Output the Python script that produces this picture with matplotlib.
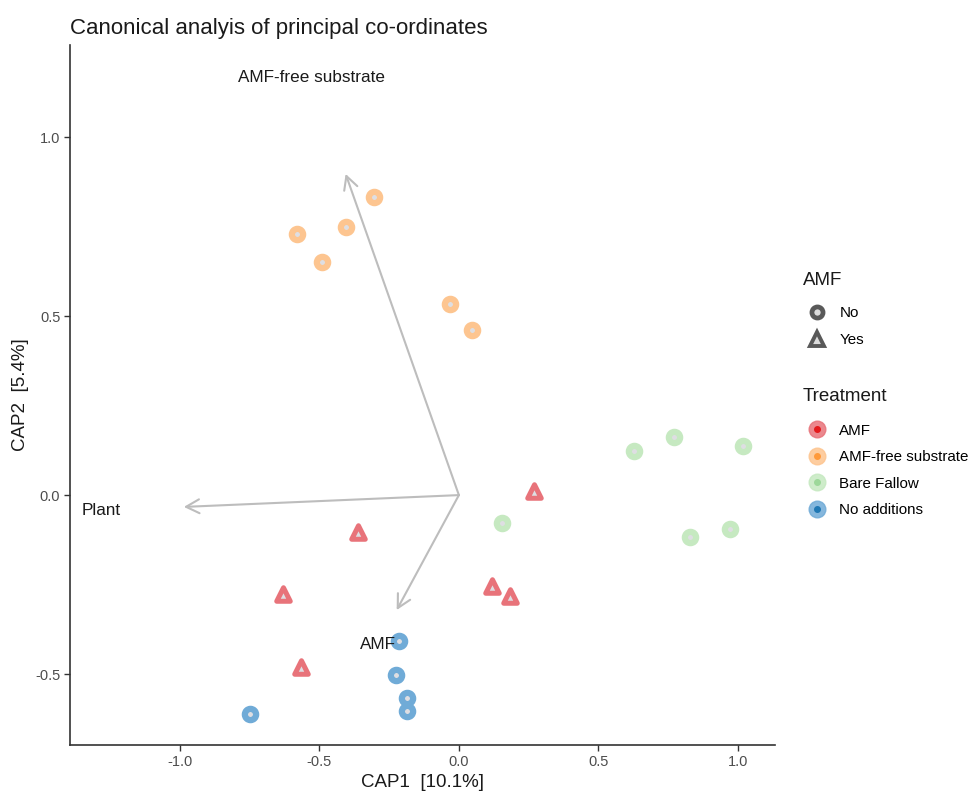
import matplotlib
matplotlib.use('Agg')
import matplotlib.pyplot as plt
from matplotlib.lines import Line2D

plt.rcParams['font.family'] = ['Liberation Sans', 'DejaVu Sans']

# site scores (CAP1, CAP2) per treatment
treatments = ['AMF', 'AMF-free substrate', 'Bare Fallow', 'No additions']
amf_flag = {'AMF': 'Yes', 'AMF-free substrate': 'No', 'Bare Fallow': 'No', 'No additions': 'No'}

cap1 = {
    'AMF': [0.269, -0.360, 0.118, 0.183, -0.632, -0.566],
    'AMF-free substrate': [-0.305, -0.406, -0.582, -0.490, -0.032, 0.048],
    'Bare Fallow': [0.628, 0.771, 1.019, 0.154, 0.830, 0.971],
    'No additions': [-0.214, -0.227, -0.187, -0.187, -0.747],
}
cap2 = {
    'AMF': [0.011, -0.103, -0.254, -0.282, -0.277, -0.480],
    'AMF-free substrate': [0.833, 0.748, 0.729, 0.650, 0.535, 0.460],
    'Bare Fallow': [0.123, 0.163, 0.137, -0.078, -0.117, -0.094],
    'No additions': [-0.408, -0.503, -0.566, -0.603, -0.612],
}

# biplot vectors
vec_names = ['AMF-free substrate', 'Plant', 'AMF']
vec_x = [-0.406, -0.986, -0.223]
vec_y = [0.897, -0.033, -0.321]

ring_col = {'AMF': '#E8737A', 'AMF-free substrate': '#FDC590',
            'Bare Fallow': '#C6E9C1', 'No additions': '#70ABD7'}
dark_col = {'AMF': '#E41A1C', 'AMF-free substrate': '#FF9A3C',
            'Bare Fallow': '#9DD89A', 'No additions': '#1F78B4'}
center_col = '#DEDEE2'

fig = plt.figure(figsize=(9.71, 7.96), dpi=100)
ax = fig.add_axes([0.0721, 0.064, 0.7260, 0.8795])

for t in treatments:
    if amf_flag[t] == 'Yes':
        ax.scatter(cap1[t], cap2[t], marker='^', s=95, facecolor=center_col,
                   edgecolor=ring_col[t], linewidth=3.6, zorder=3)
    else:
        ax.scatter(cap1[t], cap2[t], marker='o', s=66, facecolor=center_col,
                   edgecolor=ring_col[t], linewidth=4.5, zorder=3)

for name, vx, vy in zip(vec_names, vec_x, vec_y):
    ax.annotate('', xy=(vx, vy), xytext=(0, 0),
                arrowprops=dict(arrowstyle='->, head_length=0.95, head_width=0.5',
                                color='#BDBDBD', lw=1.5, shrinkA=0, shrinkB=0),
                zorder=2)
    ax.text(vx * 1.3, vy * 1.3, name, fontsize=12.3, color='#1A1A1A',
            ha='center', va='center', zorder=4)

ax.set_xlim(-1.394, 1.133)
ax.set_ylim(-0.698, 1.257)
ax.set_xticks([-1.0, -0.5, 0.0, 0.5, 1.0])
ax.set_yticks([-0.5, 0.0, 0.5, 1.0])
ax.set_xticklabels(['-1.0', '-0.5', '0.0', '0.5', '1.0'])
ax.set_yticklabels(['-0.5', '0.0', '0.5', '1.0'])
ax.tick_params(colors='#333333', labelcolor='#4D4D4D', labelsize=10.5,
               length=4, width=1, pad=3)
for side in ['top', 'right']:
    ax.spines[side].set_visible(False)
for side in ['left', 'bottom']:
    ax.spines[side].set_color('#333333')
    ax.spines[side].set_linewidth(1.2)

ax.set_xlabel('CAP1  [10.1%]', fontsize=13.5, color='#1A1A1A', labelpad=4)
ax.set_ylabel('CAP2  [5.4%]', fontsize=13.5, color='#1A1A1A', labelpad=4)
ax.set_title('Canonical analyis of principal co-ordinates', loc='left',
             fontsize=16, color='#1A1A1A', pad=8)

# legends (titles drawn as separate text for exact spacing)
fig.text(0.827, 0.6482, 'AMF', fontsize=13.5, color='#1A1A1A', va='center', ha='left')
fig.text(0.827, 0.5013, 'Treatment', fontsize=13.5, color='#1A1A1A', va='center', ha='left')

amf_handles = [
    Line2D([], [], marker='o', ls='', markersize=8, markerfacecolor='#DCDCDC',
           markeredgecolor='#595959', markeredgewidth=3.4),
    Line2D([], [], marker='^', ls='', markersize=10.5, markerfacecolor='#DCDCDC',
           markeredgecolor='#595959', markeredgewidth=2.8),
]
fig.legend(amf_handles, ['No', 'Yes'], loc='upper left',
           bbox_to_anchor=(0.8325, 0.6155), frameon=False, fontsize=10.9,
           handletextpad=0.85, labelspacing=0.85, handlelength=1.2,
           borderpad=0, borderaxespad=0)

tr_handles = []
for t in treatments:
    tr_handles.append((
        Line2D([], [], marker='o', ls='', markersize=12, markerfacecolor=ring_col[t],
               markeredgecolor=ring_col[t], alpha=0.85),
        Line2D([], [], marker='o', ls='', markersize=4, markerfacecolor=dark_col[t],
               markeredgecolor=dark_col[t]),
    ))
fig.legend(tr_handles, treatments, loc='upper left',
           bbox_to_anchor=(0.8325, 0.4676), frameon=False, fontsize=10.9,
           handletextpad=0.85, labelspacing=0.82, handlelength=1.2,
           borderpad=0, borderaxespad=0)

fig.savefig('out.png', dpi=100, facecolor='white')
